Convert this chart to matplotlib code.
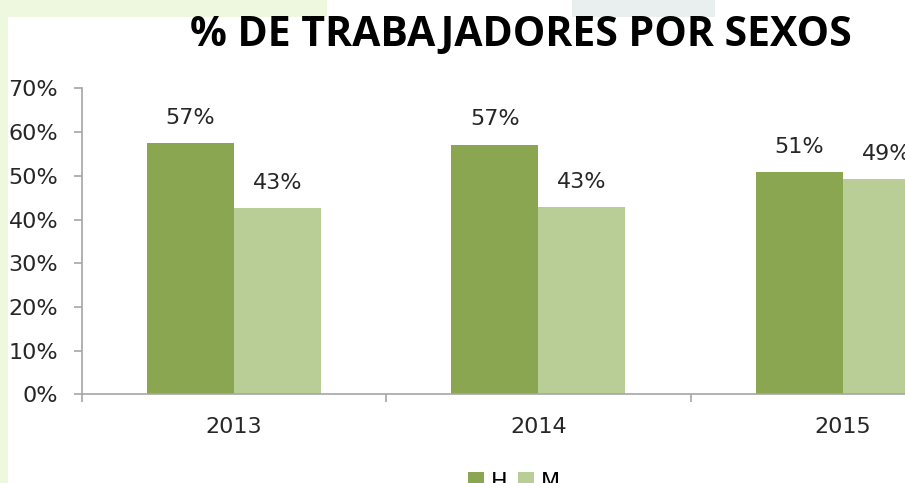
import matplotlib
matplotlib.use("Agg")
import matplotlib.pyplot as plt
from matplotlib.patches import Rectangle
import numpy as np

# Data
years = ["2013", "2014", "2015"]
hombres = [57.4, 57.1, 50.8]
mujeres = [42.6, 42.9, 49.2]
series_names = ["H", "M"]
y_ticks = [0, 10, 20, 30, 40, 50, 60, 70]

color_h = "#8AA650"
color_m = "#B9CE96"
axis_color = "#A6A6A6"
text_color = "#262626"
FS = 16

W, H = 905, 483
fig = plt.figure(figsize=(W / 100, H / 100), dpi=100)
fig.patch.set_facecolor("white")

# slide decoration strips
fig.add_artist(Rectangle((0, 0), 8 / W, 1, transform=fig.transFigure,
                         facecolor="#EEF8DF", edgecolor="none", zorder=0))
fig.add_artist(Rectangle((0, 1 - 17 / H), 327 / W, 17 / H, transform=fig.transFigure,
                         facecolor="#EEF8DF", edgecolor="none", zorder=0))
fig.add_artist(Rectangle((572 / W, 1 - 17 / H), 143 / W, 17 / H, transform=fig.transFigure,
                         facecolor="#E8EFEE", edgecolor="none", zorder=0))

# plot area (extends past the right edge of the canvas)
x0, x1 = 81.7, 81.7 + 3 * 304.5
y_bottom, y_top = 394.3, 88.4
ax = fig.add_axes([x0 / W, 1 - y_bottom / H, (x1 - x0) / W, (y_bottom - y_top) / H])
ax.set_facecolor("none")

x = np.arange(len(years))
bw = 0.2857
b1 = ax.bar(x - bw / 2, hombres, bw, color=color_h, label=series_names[0], zorder=2)
b2 = ax.bar(x + bw / 2, mujeres, bw, color=color_m, label=series_names[1], zorder=2)

for bars, vals in ((b1, hombres), (b2, mujeres)):
    for rect, v in zip(bars, vals):
        ax.annotate(f"{v:.0f}%", (rect.get_x() + rect.get_width() / 2, v),
                    xytext=(0, 11), textcoords="offset points",
                    ha="center", va="bottom", fontsize=FS,
                    color=text_color, family="DejaVu Sans")

ax.set_xlim(-0.5, len(years) - 0.5)
ax.set_ylim(0, 70)
ax.set_yticks(y_ticks)
ax.set_yticklabels([f"{t}%" for t in y_ticks], fontsize=FS, color=text_color,
                   family="DejaVu Sans")

# category separators as major ticks, year labels on minor ticks
ax.set_xticks(np.arange(-0.5, len(years), 1.0))
ax.set_xticklabels([])
ax.set_xticks(x, minor=True)
ax.set_xticklabels(years, minor=True, fontsize=FS, color=text_color,
                   family="DejaVu Sans")
ax.tick_params(axis="x", which="minor", length=0, pad=16)
ax.tick_params(axis="x", which="major", length=6, width=1.2, color=axis_color)
ax.tick_params(axis="y", length=6, width=1.2, color=axis_color, pad=11)

for s in ("top", "right"):
    ax.spines[s].set_visible(False)
for s in ("left", "bottom"):
    ax.spines[s].set_color(axis_color)
    ax.spines[s].set_linewidth(1.2)

# title
fig.text(521 / W, 1 - 35 / H, "% DE TRABAJADORES POR SEXOS", ha="center", va="center",
         fontsize=29.5, fontweight="bold", family="Open Sans", color="black")

# legend at the bottom (partly cut off by the canvas edge)
fig.legend(handles=[b1, b2], labels=series_names, loc="upper center",
           bbox_to_anchor=(514 / W, 1 - 472 / H), ncol=2, frameon=False,
           handlelength=0.7, handleheight=0.7, borderpad=0, borderaxespad=0,
           handletextpad=0.3, columnspacing=0.5,
           prop={"family": "DejaVu Sans", "size": FS})

fig.savefig("out.png", dpi=100, facecolor=fig.get_facecolor())
